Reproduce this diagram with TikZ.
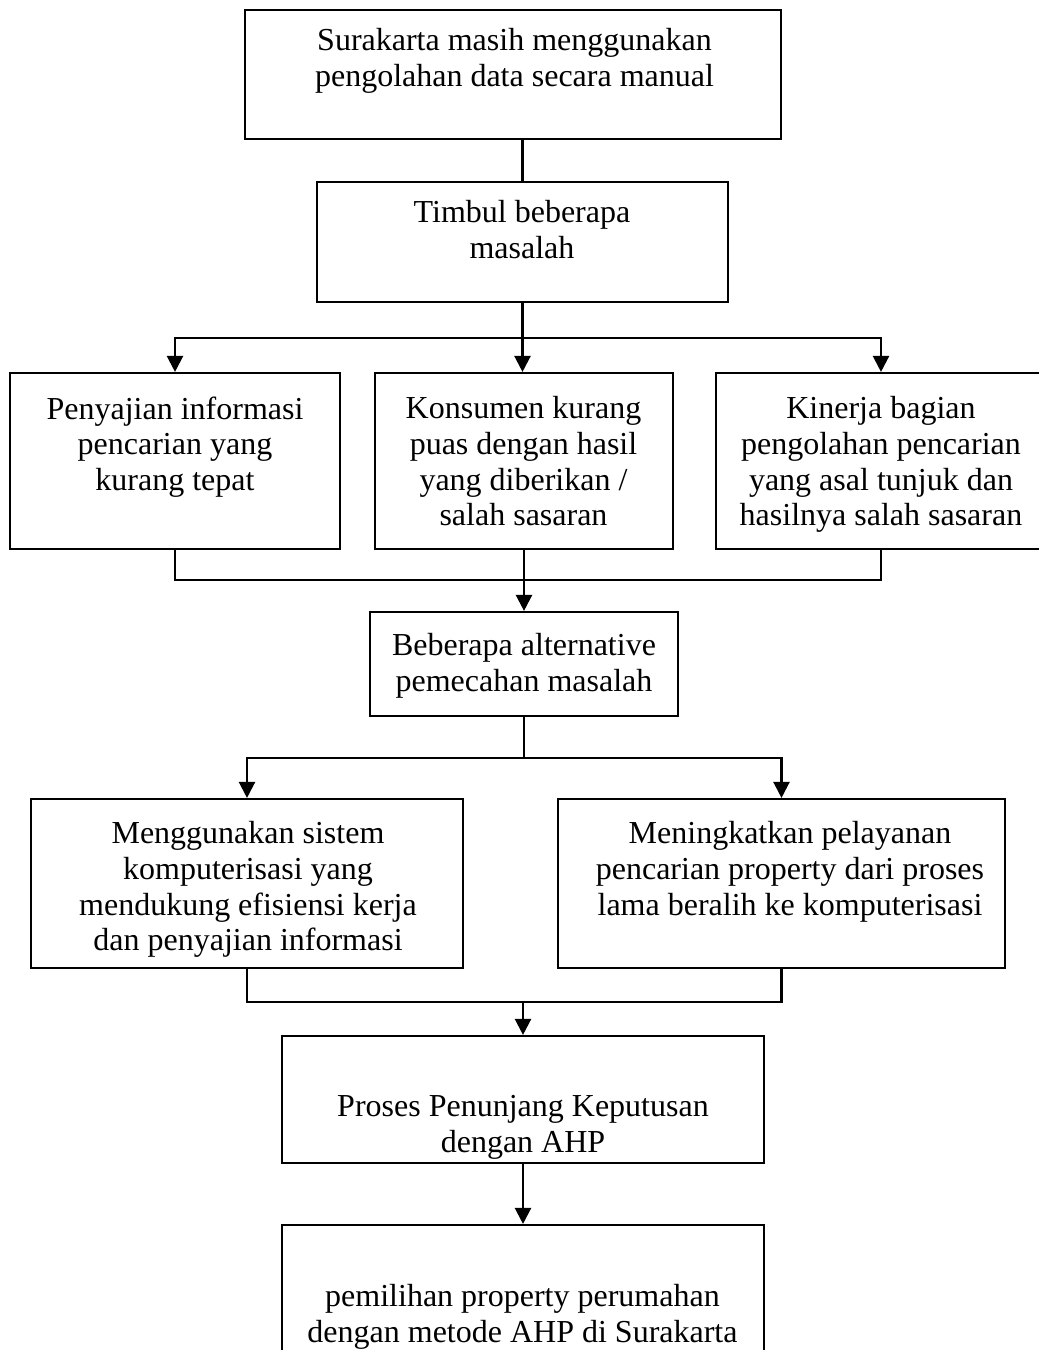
\documentclass[tikz,border=0pt]{standalone}
\usepackage{fontspec}
\setmainfont{Liberation Serif}
\usetikzlibrary{arrows.meta}
\tikzset{
    flow-box/.style = {draw=black, line width=0.8pt, rectangle, inner sep=0pt},
    flow-text/.style = {anchor=north, align=center, inner sep=0pt, font=\fontsize{12pt}{13.4pt}\selectfont},
    flow-line/.style = {line width=0.85pt},
    flow-arrow/.style = {line width=0.85pt, -{Triangle[length=6pt, width=6pt]}},
}

\begin{document}
\begin{tikzpicture}[x=0.375pt, y=-0.375pt]
\useasboundingbox (0,0) rectangle (1039,1350);
\clip (0,0) rectangle (1039,1350);

% kotak
\node[flow-box, minimum width=201pt, minimum height=48.375pt] (awal) at (513,74.5) {};
\node[flow-box, minimum width=154.125pt, minimum height=45pt] (masalah) at (522.5,242) {};
\node[flow-box, minimum width=123.75pt, minimum height=66pt] (penyajian) at (175,461) {};
\node[flow-box, minimum width=111.75pt, minimum height=66pt] (konsumen) at (524,461) {};
\node[flow-box, minimum width=123.75pt, minimum height=66pt] (kinerja) at (881,461) {};
\node[flow-box, minimum width=115.5pt, minimum height=39pt] (alternatif) at (524,664) {};
\node[flow-box, minimum width=162pt, minimum height=63.375pt] (komputer) at (247,883.5) {};
\node[flow-box, minimum width=167.625pt, minimum height=63.375pt] (pelayanan) at (781.5,883.5) {};
\node[flow-box, minimum width=180.75pt, minimum height=47.625pt] (ahp) at (523,1099.5) {};
\node[flow-box, minimum width=180.75pt, minimum height=73.125pt] (hasil) at (523,1322.5) {};

% teks
\node[flow-text] (t-awal) at (514.5,28) {Surakarta masih menggunakan\\pengolahan data secara manual};
\node[flow-text] (t-masalah) at (522,200) {Timbul beberapa\\masalah};
\node[flow-text] (t-penyajian) at (175,396) {Penyajian informasi\\pencarian yang\\kurang tepat};
\node[flow-text] (t-konsumen) at (523.5,396) {Konsumen kurang\\puas dengan hasil\\yang diberikan /\\salah sasaran};
\node[flow-text] (t-kinerja) at (881,396) {Kinerja bagian\\pengolahan pencarian\\yang asal tunjuk dan\\hasilnya salah sasaran};
\node[flow-text] (t-alternatif) at (524,633) {Beberapa alternative\\pemecahan masalah};
\node[flow-text] (t-komputer) at (248,821) {Menggunakan sistem\\komputerisasi yang\\mendukung efisiensi kerja\\dan penyajian informasi};
\node[flow-text] (t-pelayanan) at (790,821) {Meningkatkan pelayanan\\pencarian property dari proses\\lama beralih ke komputerisasi};
\node[flow-text] (t-ahp) at (523,1095) {Proses Penunjang Keputusan\\dengan AHP};
\node[flow-text] (t-hasil) at (522.5,1284) {pemilihan property perumahan\\dengan metode AHP di Surakarta};

% titik cabang
\coordinate (cabang-1) at (522.5,338);
\coordinate (gabung-1) at (524,580);
\coordinate (cabang-2) at (524,758);
\coordinate (gabung-2) at (523,1002);

% garis
\draw[flow-line] (masalah.north) -- (masalah.north |- awal.south);
\draw[flow-line] (masalah.south) -- (cabang-1);
\draw[flow-arrow] (cabang-1) -| (penyajian.north);
\draw[flow-arrow] (cabang-1) -| (kinerja.north);
\draw[flow-arrow] (cabang-1) -- (cabang-1 |- konsumen.north);

\draw[flow-line] (penyajian.south) |- (gabung-1) -| (kinerja.south);
\draw[flow-line] (konsumen.south) -- (gabung-1);
\draw[flow-arrow] (gabung-1) -- (alternatif.north);

\draw[flow-line] (alternatif.south) -- (cabang-2);
\draw[flow-arrow] (cabang-2) -| (komputer.north);
\draw[flow-arrow] (cabang-2) -| (pelayanan.north);

\draw[flow-line] (komputer.south) |- (gabung-2) -| (pelayanan.south);
\draw[flow-arrow] (gabung-2) -- (ahp.north);
\draw[flow-arrow] (ahp.south) -- (hasil.north);
\end{tikzpicture}
\end{document}
